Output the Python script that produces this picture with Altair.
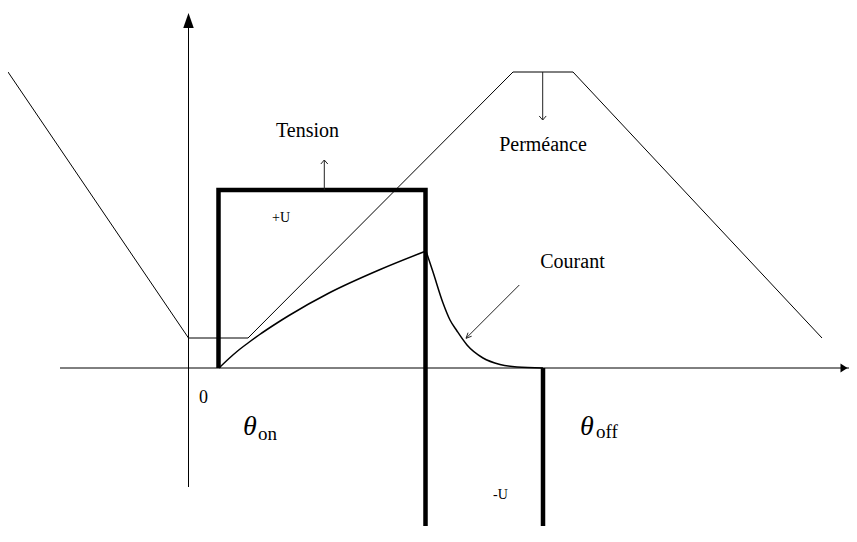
import altair as alt
import pandas as pd

# ---- data (diagram units: origin at the axes crossing) ----
perm_x = [-180.5, 0, 59.5, 324.5, 384.5, 633.5]
perm_y = [296, 30, 30, 296, 296, 30]

tension_x = [30, 30, 237, 237, 354.5, 354.5]
tension_y = [0, 178, 178, -178, -178, 0]

rise_x = [30.5, 40.5, 48.5, 59.5, 70.5, 88.5, 100.5, 140.5, 190.5, 237.5]
rise_y = [0, 9.5, 16.5, 25, 33, 45, 52.5, 75, 98, 117]
fall_x = [237.5, 244.5, 254.5, 261.5, 268.5, 278.5, 294.5, 311.5, 328.5, 354.5]
fall_y = [117, 96, 65, 48, 37, 23, 10, 3.5, 1, 0]

axis_x1 = [-128.5, 0]
axis_y1 = [0, -119]
axis_x2 = [660.5, 0]
axis_y2 = [0, 340]

arrow_names = ["Tension", "Perméance", "Courant"]
arrow_x1 = [135.8, 354.2, 330.8]
arrow_y1 = [178, 296, 83]
arrow_x2 = [135.8, 354.2, 277.5]
arrow_y2 = [208, 248, 29.7]

big_labels = ["Tension", "Perméance", "Courant"]
big_x = [119, 354.5, 384]
big_y = [231, 217, 100]

small_labels = ["+U", "-U"]
small_x = [92.5, 312]
small_y = [146, -131]

zero_label = ["0"]
zero_x = [15]
zero_y = [-35]

theta_x = [54.5, 391.5]
theta_y = [-67, -67]
sub_labels = ["on", "off"]
sub_x = [69.5, 407.5]
sub_y = [-72, -70]

XD = [-180.5, 660.5]
YD = [-158, 360]

def X(f="x"):
    return alt.X(f + ":Q", scale=alt.Scale(domain=XD, nice=False, zero=False), axis=None)

def Y(f="y"):
    return alt.Y(f + ":Q", scale=alt.Scale(domain=YD, nice=False, zero=False), axis=None)

SERIF = "Liberation Serif"

axes_df = pd.DataFrame({"x": axis_x1, "y": axis_y1, "x2": axis_x2, "y2": axis_y2})
axes = alt.Chart(axes_df).mark_rule(color="black", strokeWidth=1).encode(
    x=X(), y=Y(), x2="x2:Q", y2="y2:Q")

yhead = alt.Chart(pd.DataFrame({"x": [0], "y": [347.5]})).mark_point(
    shape="M0,-1L0.7,1L-0.7,1Z", filled=True, size=225, color="black", opacity=1
).encode(x=X(), y=Y())
xhead = alt.Chart(pd.DataFrame({"x": [655.5], "y": [0]})).mark_point(
    shape="M1,0L-1,-1.3L-1,1.3Z", filled=True, size=49, color="black", opacity=1
).encode(x=X(), y=Y())

perm_df = pd.DataFrame({"x": perm_x, "y": perm_y, "i": range(len(perm_x))})
perm = alt.Chart(perm_df).mark_line(color="black", strokeWidth=1, clip=True).encode(
    x=X(), y=Y(), order="i:Q")

ten_df = pd.DataFrame({"x": tension_x, "y": tension_y, "i": range(len(tension_x))})
tension = alt.Chart(ten_df).mark_line(color="black", strokeWidth=4.5, clip=True,
                                      strokeJoin="miter", strokeCap="butt").encode(
    x=X(), y=Y(), order="i:Q")

cur_df = pd.concat([
    pd.DataFrame({"x": rise_x, "y": rise_y, "seg": "rise", "i": range(len(rise_x))}),
    pd.DataFrame({"x": fall_x, "y": fall_y, "seg": "fall", "i": range(len(fall_x))}),
])
current = alt.Chart(cur_df).mark_line(color="black", strokeWidth=1.5, interpolate="monotone").encode(
    x=X(), y=Y(), detail="seg:N", order="i:Q")

arr_df = pd.DataFrame({"n": arrow_names, "x": arrow_x1, "y": arrow_y1, "x2": arrow_x2, "y2": arrow_y2})
arrows = alt.Chart(arr_df).mark_rule(color="#222222", strokeWidth=1).encode(
    x=X(), y=Y(), x2="x2:Q", y2="y2:Q")

def head(idx, path, size):
    d = pd.DataFrame({"x": [arrow_x2[idx]], "y": [arrow_y2[idx]]})
    return alt.Chart(d).mark_point(shape=path, filled=False, size=size, color="#222222",
                                   strokeWidth=1, opacity=1).encode(x=X(), y=Y())

head_t = head(0, "M-1,1.15L0,0L1,1.15", 49)
head_p = head(1, "M-1,-1.15L0,0L1,-1.15", 49)
head_c = head(2, "M0.94,-0.342L0,0L0.342,-0.94", 144)

big = alt.Chart(pd.DataFrame({"t": big_labels, "x": big_x, "y": big_y})).mark_text(
    font=SERIF, fontSize=20, align="center", baseline="alphabetic", color="black"
).encode(x=X(), y=Y(), text="t:N")

small = alt.Chart(pd.DataFrame({"t": small_labels, "x": small_x, "y": small_y})).mark_text(
    font=SERIF, fontSize=14, align="center", baseline="alphabetic", color="black"
).encode(x=X(), y=Y(), text="t:N")

zero = alt.Chart(pd.DataFrame({"t": zero_label, "x": zero_x, "y": zero_y})).mark_text(
    font=SERIF, fontSize=18, align="center", baseline="alphabetic", color="black"
).encode(x=X(), y=Y(), text="t:N")

theta = alt.Chart(pd.DataFrame({"t": ["θ", "θ"], "x": theta_x, "y": theta_y})).mark_text(
    font=SERIF, fontSize=28, fontStyle="italic", align="left", baseline="alphabetic", color="black"
).encode(x=X(), y=Y(), text="t:N")

subs = alt.Chart(pd.DataFrame({"t": sub_labels, "x": sub_x, "y": sub_y})).mark_text(
    font=SERIF, fontSize=19, align="left", baseline="alphabetic", color="black"
).encode(x=X(), y=Y(), text="t:N")

chart = alt.layer(
    axes, yhead, xhead, perm, current, tension, arrows, head_t, head_p, head_c,
    big, small, zero, theta, subs
).properties(
    width=841, height=518, padding=0, background="white",
    autosize=alt.AutoSizeParams(type="none"),
).configure_view(stroke=None)

chart.save("out.html", embed_options={"renderer": "svg", "actions": False})
